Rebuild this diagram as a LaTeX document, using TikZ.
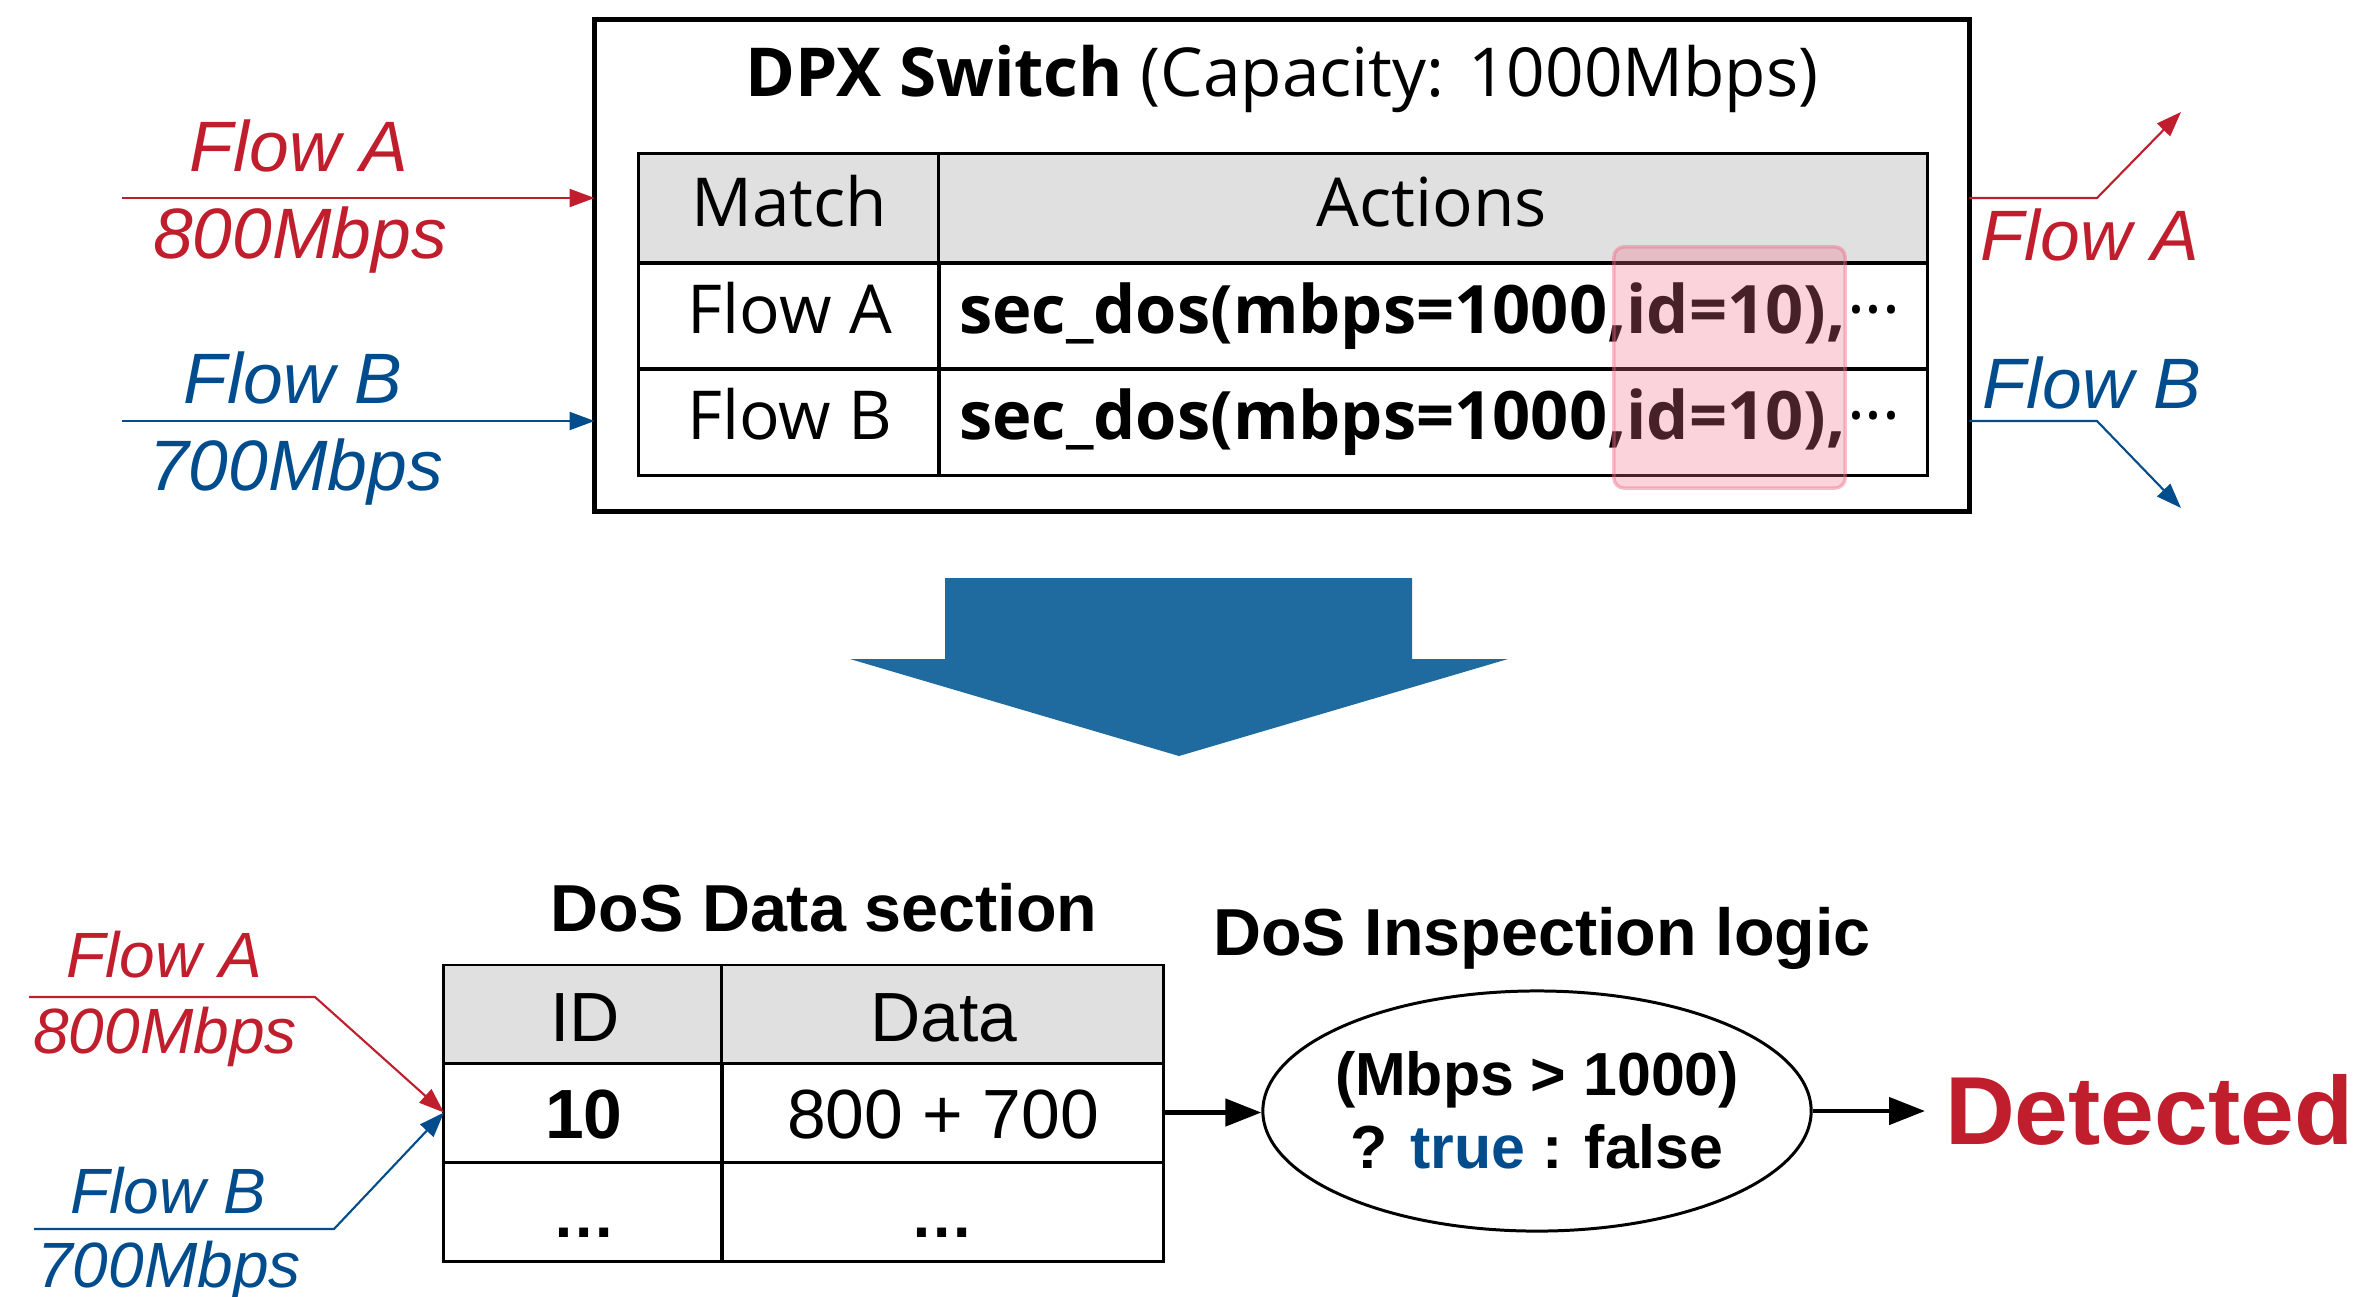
\documentclass[tikz,border=0pt]{standalone}
\usepackage{fontspec}
\setmainfont{Open Sans}
\newfontfamily\hv{Liberation Sans}
\usetikzlibrary{arrows.meta,shapes.geometric}

\definecolor{flowred}{RGB}{192,30,45}
\definecolor{flowblue}{RGB}{0,76,141}
\definecolor{bigblue}{RGB}{31,106,158}
\definecolor{hdrgray}{RGB}{224,224,224}
\definecolor{hlpink}{RGB}{238,110,135}

\tikzset{
  cellbox/.style={draw, line width=0.85pt, inner sep=0pt, outer sep=0pt},
  swbox/.style={draw, line width=1.4pt, inner sep=0pt, outer sep=0pt},
  txt/.style={anchor=base, inner sep=0pt, outer sep=0pt},
  toptxt/.style={txt, font=\fontsize{19.2pt}{23pt}\selectfont},
  acttxt/.style={txt, anchor=base west, font=\bfseries\fontsize{19pt}{23pt}\selectfont},
  flowlbl/.style={txt, font=\hv\itshape\fontsize{20.3pt}{24pt}\selectfont},
  flowlblsm/.style={txt, font=\hv\itshape\fontsize{18.2pt}{22pt}\selectfont},
  bottxt/.style={txt, font=\hv\fontsize{19.8pt}{24pt}\selectfont},
  sectitle/.style={txt, font=\hv\bfseries\fontsize{18.9pt}{23pt}\selectfont},
  logictxt/.style={txt, font=\hv\bfseries\fontsize{17.3pt}{21pt}\selectfont},
  flowA/.style={draw=flowred, line width=0.6pt, -{Triangle[length=0.25cm,width=0.18cm]}},
  flowB/.style={draw=flowblue, line width=0.6pt, -{Triangle[length=0.25cm,width=0.18cm]}},
  blkarrow/.style={draw=black, line width=1.3pt, -{Triangle[length=0.36cm,width=0.27cm]}},
  hilite/.style={fill=hlpink, fill opacity=0.3, draw=hlpink, draw opacity=0.45,
    line width=1pt, rounded corners=0.1cm, inner sep=0pt},
}

\begin{document}
\begin{tikzpicture}[x=0.01cm, y=-0.01cm]
\useasboundingbox (0,0) rectangle (2367,1296);

% ---------------- switch with its flow table ----------------
\node[swbox, minimum width=13.74cm, minimum height=4.91cm] (sw) at (1282,265.5) {};
\node[toptxt] (title) at (1282,96) {\textbf{DPX Switch} (Capacity: 1000Mbps)};

\node[cellbox, fill=hdrgray, minimum width=3.00cm, minimum height=1.09cm] (hMatch) at (789,208.5) {};
\node[cellbox, fill=hdrgray, minimum width=9.88cm, minimum height=1.09cm] (hAct) at (1433,208.5) {};
\node[cellbox, minimum width=3.00cm, minimum height=1.06cm] (mA) at (789,316) {};
\node[cellbox, minimum width=9.88cm, minimum height=1.06cm] (aA) at (1433,316) {};
\node[cellbox, minimum width=3.00cm, minimum height=1.06cm] (mB) at (789,422) {};
\node[cellbox, minimum width=9.88cm, minimum height=1.06cm] (aB) at (1433,422) {};

\node[toptxt] (tMatch) at (789,226) {Match};
\node[toptxt] (tAct) at (1432,226) {Actions};
\node[toptxt] (tFA) at (790,333) {Flow A};
\node[toptxt] (tFB) at (790,439) {Flow B};
\node[acttxt] (actA) at (959,333) {sec\_dos(mbps=1000,id=10),};
\node[toptxt, anchor=base west] (dotsA) at (1847,333) {···};
\node[acttxt] (actB) at (959,439) {sec\_dos(mbps=1000,id=10),};
\node[toptxt, anchor=base west] (dotsB) at (1847,439) {···};

% shared id marker over both rows
\node[hilite, minimum width=2.31cm, minimum height=2.41cm] (idmark) at (1729.5,367.5) {};

% ---------------- incoming flows ----------------
\coordinate (aIn) at (122,198);
\coordinate (bIn) at (122,421);
\draw[flowA] (aIn) -- (sw.west |- aIn);
\draw[flowB] (bIn) -- (sw.west |- bIn);
\node[flowlbl, text=flowred] (lAin) at (299,171) {Flow A};
\node[flowlbl, text=flowred] (rAin) at (300,258) {800Mbps};
\node[flowlbl, text=flowblue] (lBin) at (293,403) {Flow B};
\node[flowlbl, text=flowblue] (rBin) at (296,490) {700Mbps};

% ---------------- outgoing flows ----------------
\coordinate (aBend) at (2097,198);
\coordinate (aOut) at (2181,112);
\coordinate (bBend) at (2097,421);
\coordinate (bOut) at (2181,508);
\draw[flowA] (sw.east |- aBend) -- (aBend) -- (aOut);
\draw[flowB] (sw.east |- bBend) -- (bBend) -- (bOut);
\node[flowlbl, text=flowred] (lAout) at (2090,260) {Flow A};
\node[flowlbl, text=flowblue] (lBout) at (2092,408) {Flow B};

% ---------------- transition arrow ----------------
\fill[bigblue] (945,578) -- (1412,578) -- (1412,659) -- (1508,659)
  -- (1179,756) -- (850,659) -- (945,659) -- cycle;

% ---------------- DoS data section ----------------
\node[sectitle] (dsTitle) at (824,931) {DoS Data section};
\node[cellbox, fill=hdrgray, minimum width=2.78cm, minimum height=0.98cm] (hID) at (583,1014) {};
\node[cellbox, fill=hdrgray, minimum width=4.41cm, minimum height=0.98cm] (hData) at (942.5,1014) {};
\node[cellbox, minimum width=2.78cm, minimum height=0.99cm] (cID) at (583,1112.5) {};
\node[cellbox, minimum width=4.41cm, minimum height=0.99cm] (cSum) at (942.5,1112.5) {};
\node[cellbox, minimum width=2.78cm, minimum height=0.99cm] (cIDx) at (583,1211.5) {};
\node[cellbox, minimum width=4.41cm, minimum height=0.99cm] (cSumx) at (942.5,1211.5) {};

\node[bottxt] (tID) at (585,1041) {ID};
\node[bottxt] (tData) at (944,1041) {Data};
\node[bottxt, font=\hv\bfseries\fontsize{19.8pt}{24pt}\selectfont] (tTen) at (584,1138) {10};
\node[bottxt] (tSum) at (943,1138) {800 + 700};
\node[bottxt, font=\hv\bfseries\fontsize{18pt}{24pt}\selectfont] (tDotsA) at (584,1237) {…};
\node[bottxt, font=\hv\bfseries\fontsize{18pt}{24pt}\selectfont] (tDotsB) at (942,1237) {…};

% flows entering the data section
\coordinate (aDs) at (29,997);
\coordinate (aDsBend) at (315,997);
\coordinate (bDs) at (34,1229);
\coordinate (bDsBend) at (334,1229);
\draw[flowA] (aDs) -- (aDsBend) -- (cID.west);
\draw[flowB] (bDs) -- (bDsBend) -- (cID.west);
\node[flowlblsm, text=flowred] (lAds) at (164,977) {Flow A};
\node[flowlblsm, text=flowred] (rAds) at (165,1053) {800Mbps};
\node[flowlblsm, text=flowblue] (lBds) at (168,1213) {Flow B};
\node[flowlblsm, text=flowblue] (rBds) at (169,1287) {700Mbps};

% ---------------- inspection logic ----------------
\node[sectitle] (inspTitle) at (1542,955) {DoS Inspection logic};
\node[ellipse, draw, line width=0.85pt, minimum width=5.48cm, minimum height=2.40cm, inner sep=0pt] (insp) at (1537,1111) {};
\node[logictxt] (cond) at (1537,1095) {(Mbps > 1000)};
\node[logictxt] (tern) at (1537,1168) {? \textcolor{flowblue}{true} : false};

\node[txt, anchor=base west, inner xsep=0.2cm, text=flowred,
  font=\hv\bfseries\fontsize{27.5pt}{32pt}\selectfont] (det) at (1925,1144) {Detected};

\draw[blkarrow] (cSum.east) -- (insp.west |- cSum.east);
\draw[blkarrow] (insp.east) -- (det.west |- insp.east);
\end{tikzpicture}
\end{document}
